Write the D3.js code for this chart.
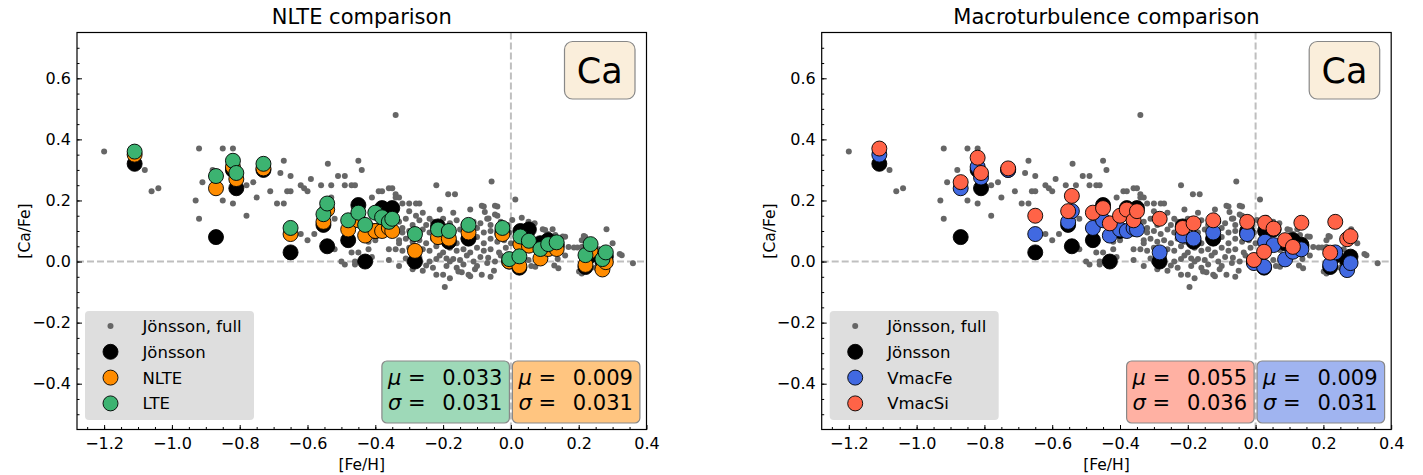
<!DOCTYPE html>
<html>
<head>
<meta charset="utf-8">
<script src="https://cdn.jsdelivr.net/npm/d3@7"></script>
<style>
  body { margin: 0; background: #fff; }
  svg { display: block; font-family: "DejaVu Sans", sans-serif; }
</style>
</head>
<body>
<svg class="chart"></svg>
<script>
// Sample stars: [Fe/H] and [Ca/Fe] for each analysis
var feh      = [-1.11, -0.87, -0.82, -0.81, -0.73, -0.65, -0.553, -0.542, -0.48, -0.45, -0.43, -0.40, -0.38, -0.36, -0.35, -0.283, -0.215, -0.183, -0.125, -0.025, -0.005, 0.025, 0.028, 0.053, 0.087, 0.11, 0.135, 0.22, 0.235, 0.27, 0.28];
var caJon    = [0.32, 0.08, 0.30, 0.24, 0.30, 0.03, 0.12, 0.05, 0.07, 0.185, 0.0, 0.10, 0.175, 0.12, 0.175, 0.0, 0.115, 0.065, 0.075, 0.10, 0.0, -0.02, 0.10, 0.105, 0.06, 0.07, 0.055, -0.018, 0.02, 0.0, 0.016];
var caNLTE   = [0.35, 0.24, 0.31, 0.27, 0.305, 0.09, 0.13, 0.17, 0.105, 0.135, 0.085, 0.10, 0.10, 0.11, 0.10, 0.035, 0.08, 0.075, 0.095, 0.09, 0.0, -0.015, 0.057, 0.052, 0.01, 0.041, 0.041, -0.011, 0.035, -0.026, -0.002];
var caLTE    = [0.36, 0.28, 0.33, 0.29, 0.32, 0.11, 0.155, 0.19, 0.135, 0.16, 0.12, 0.16, 0.145, 0.13, 0.14, 0.09, 0.105, 0.10, 0.12, 0.11, 0.008, 0.017, 0.082, 0.068, 0.041, 0.057, 0.063, 0.021, 0.057, 0.008, 0.03];
var caVmacFe = [0.35, 0.24, 0.31, 0.275, 0.30, 0.09, 0.13, 0.165, 0.11, 0.135, 0.085, 0.105, 0.10, 0.11, 0.105, 0.03, 0.085, 0.075, 0.095, 0.09, -0.005, -0.017, 0.065, 0.054, 0.007, 0.032, 0.04, -0.01, 0.03, -0.028, -0.005];
var caVmacSi = [0.37, 0.26, 0.34, 0.29, 0.305, 0.15, 0.165, 0.215, 0.16, 0.175, 0.125, 0.15, 0.17, 0.135, 0.165, 0.14, 0.11, 0.125, 0.135, 0.13, 0.005, 0.032, 0.127, 0.108, 0.07, 0.048, 0.127, 0.029, 0.13, 0.073, 0.083];

// Jönsson full sample [Fe/H, Ca/Fe]
var jonssonFull = [
  [-1.20,0.36],[-1.08,0.30],[-1.06,0.23],[-1.04,0.24],
  [-0.93,0.20],[-0.92,0.14],[-0.92,0.37],[-0.91,0.26],[-0.88,0.30],[-0.85,0.20],[-0.85,0.37],[-0.82,0.37],
  [-0.82,0.19],[-0.78,0.25],[-0.78,0.15],[-0.76,0.26],[-0.75,0.21],[-0.71,0.23],[-0.69,0.19],[-0.67,0.19],
  [-0.68,0.29],[-0.67,0.33],[-0.66,0.23],[-0.65,0.23],[-0.65,0.28],[-0.62,0.25],[-0.61,0.24],[-0.60,0.23],
  [-0.59,0.27],[-0.62,0.09],[-0.60,0.07],[-0.56,0.25],[-0.54,0.32],[-0.53,0.25],[-0.53,0.21],[-0.52,0.14],
  [-0.51,0.28],[-0.49,0.28],[-0.49,0.25],[-0.47,0.25],[-0.46,0.25],[-0.45,0.33],[-0.44,0.30],
  [-0.41,0.21],[-0.39,0.23],[-0.36,0.24],[-0.34,0.22],[-0.34,0.21],[-0.32,0.19],[-0.30,0.19],[-0.28,0.19],
  [-0.27,0.19],[-0.22,0.25],[-0.185,0.22],[-0.165,0.22],[-0.38,0.23],[-0.35,0.24],[-0.33,0.21],
  [-0.56,0.11],[-0.58,0.09],[-0.49,-0.01],[-0.46,-0.01],[-0.47,0.03],[-0.45,0.03],[-0.42,0.04],[-0.41,0.015],
  [-0.42,0.065],[-0.40,0.07],[-0.36,0.005],[-0.33,-0.015],[-0.31,0.01],[-0.52,0.04],[-0.50,0.0],[-0.46,0.0],
  [-0.36,0.04],[-0.34,0.04],[-0.33,0.07],[-0.32,0.095],[-0.36,0.09],[-0.35,0.105],[-0.30,0.00],[-0.28,0.008],
  [-0.25,-0.013],[-0.22,0.008],[-0.22,-0.043],[-0.20,-0.043],[-0.19,-0.015],[-0.195,-0.083],[-0.18,0.0],
  [-0.17,0.008],[-0.145,-0.035],[-0.125,-0.043],[-0.086,-0.043],[-0.16,-0.02],[-0.106,-0.025],[-0.047,0.0],
  [-0.067,0.012],[-0.018,0.012],[-0.18,-0.055],[-0.155,-0.033],[-0.12,-0.048],
  [-0.30,0.165],[-0.26,0.16],[-0.21,0.17],[-0.17,0.16],[-0.12,0.17],[-0.08,0.18],[-0.04,0.18],[-0.04,0.15],
  [-0.07,0.14],[-0.28,0.15],[-0.24,0.14],
  [-0.33,0.13],[-0.31,0.14],[-0.29,0.12],[-0.27,0.135],[-0.25,0.12],[-0.23,0.13],[-0.20,0.14],[-0.18,0.125],
  [-0.16,0.135],[-0.14,0.12],[-0.11,0.13],[-0.09,0.125],[-0.06,0.12],[-0.03,0.13],[-0.01,0.12],
  [-0.32,0.11],[-0.30,0.10],[-0.28,0.09],[-0.26,0.105],[-0.24,0.095],[-0.22,0.09],[-0.19,0.11],[-0.17,0.095],
  [-0.15,0.105],[-0.13,0.09],[-0.10,0.11],[-0.08,0.095],[-0.06,0.10],[-0.04,0.09],[-0.02,0.105],[-0.005,0.095],
  [-0.33,0.06],[-0.31,0.075],[-0.29,0.065],[-0.27,0.07],[-0.25,0.06],[-0.23,0.075],[-0.21,0.065],[-0.19,0.08],
  [-0.16,0.06],[-0.14,0.075],[-0.12,0.065],[-0.10,0.08],[-0.08,0.06],[-0.06,0.075],[-0.04,0.065],[-0.02,0.07],
  [0.0,0.06],
  [-0.32,0.035],[-0.30,0.045],[-0.28,0.03],[-0.26,0.04],[-0.24,0.035],[-0.22,0.05],[-0.20,0.03],[-0.18,0.045],
  [-0.16,0.035],[-0.14,0.04],[-0.12,0.03],[-0.10,0.045],[-0.08,0.035],[-0.06,0.04],[-0.035,0.03],[-0.015,0.045],
  [-0.27,0.015],[-0.24,0.0],[-0.21,0.02],[-0.19,0.01],[-0.15,0.005],[-0.13,0.02],[-0.11,0.0],[-0.09,0.015],
  [-0.07,-0.005],[-0.03,0.02],
  [-0.26,-0.03],[-0.23,-0.02],[-0.14,-0.01],[-0.10,-0.015],[-0.05,-0.03],[-0.06,-0.05],[-0.29,-0.025],
  [-0.34,0.48],[-0.057,0.262],[-0.086,0.183],[-0.047,0.183],[-0.077,0.162],[-0.047,0.154],[-0.066,0.141],
  [0.013,0.203],[0.004,0.136],[0.032,0.143],[0.07,0.125],[0.094,0.106],[0.123,0.106],[0.153,0.082],[0.186,0.046],
  [0.196,0.046],[0.215,0.084],[0.282,0.106],[0.321,0.025],[0.36,-0.006],[0.128,-0.013],[0.138,0.008],[0.201,-0.033],
  [0.06,-0.015],[0.052,0.13],[0.062,0.114],[0.101,0.103],[0.131,0.087],[0.16,0.081],[0.17,0.048],[0.131,0.038],
  [0.14,-0.022],[0.072,-0.017],[0.209,0.07],[0.219,0.081],[0.209,0.048],[0.239,0.021],[0.209,-0.039],[0.327,0.021],
  [0.072,0.038],[0.052,0.005],[0.022,0.043],[0.018,0.10],[0.04,0.09],[0.09,0.06],[0.11,0.09],[0.15,0.05],
  [0.03,0.06],[0.08,0.02],[0.16,0.02],[0.26,0.04],[0.30,0.06],[0.25,-0.02]
];

// Axis ticks
var xTicks = [-1.2, -1.0, -0.8, -0.6, -0.4, -0.2, 0.0, 0.2, 0.4];
var yTicks = [-0.4, -0.2, 0.0, 0.2, 0.4, 0.6];
var xMinor = d3.range(-1.25, 0.4, 0.05);
var yMinor = d3.range(-0.5, 0.75, 0.05);

// Panel setup: titles, series and statistics
var panelTitles = ["NLTE comparison", "Macroturbulence comparison"];
var seriesLeft  = [{ name: "Jönsson", values: caJon, color: "#000000" },
                   { name: "NLTE", values: caNLTE, color: "#ff8c00" },
                   { name: "LTE", values: caLTE, color: "#3cb371" }];
var seriesRight = [{ name: "Jönsson", values: caJon, color: "#000000" },
                   { name: "VmacFe", values: caVmacFe, color: "#4169e1" },
                   { name: "VmacSi", values: caVmacSi, color: "#ff6347" }];
var statsLeft   = [{ mu: "0.033", sigma: "0.031", color: "#9ed9b8", side: "left" },
                   { mu: "0.009", sigma: "0.031", color: "#ffc580", side: "right" }];
var statsRight  = [{ mu: "0.055", sigma: "0.036", color: "#ffb1a3", side: "left" },
                   { mu: "0.009", sigma: "0.031", color: "#a0b4f0", side: "right" }];

var w = 1423, h = 475;
var svg = d3.select(".chart").attr("width", w).attr("height", h);

var yTop = 32.5, yBot = 429.5;

function styleAxis(a) {
    a.select(".domain").remove();
    a.attr("font-family", "DejaVu Sans, sans-serif").attr("font-size", 16);
    a.selectAll("line").attr("stroke", "#000");
    a.selectAll("text").attr("fill", "#000");
}

function drawPanel(x0, x1, title, series, stats) {
    var g = svg.append("g");

    var xScale = d3.scaleLinear().domain([-1.28, 0.4]).range([x0, x1]);
    var yScale = d3.scaleLinear().domain([-0.55, 0.75]).range([yBot, yTop]);

    // reference lines
    g.append("line")
        .attr("x1", x0).attr("x2", x1)
        .attr("y1", yScale(0)).attr("y2", yScale(0))
        .attr("stroke", "#bfbfbf").attr("stroke-width", 2).attr("stroke-dasharray", "7,3");
    g.append("line")
        .attr("x1", xScale(0)).attr("x2", xScale(0))
        .attr("y1", yTop).attr("y2", yBot)
        .attr("stroke", "#bfbfbf").attr("stroke-width", 2).attr("stroke-dasharray", "7,3");

    // full sample
    g.append("g").selectAll("circle")
        .data(jonssonFull)
        .enter().append("circle")
        .attr("cx", function(d) { return xScale(d[0]); })
        .attr("cy", function(d) { return yScale(d[1]); })
        .attr("r", 3)
        .attr("fill", "#666666");

    // comparison stars
    series.forEach(function(s) {
        g.append("g").selectAll("circle")
            .data(feh)
            .enter().append("circle")
            .attr("cx", function(d) { return xScale(d); })
            .attr("cy", function(d, i) { return yScale(s.values[i]); })
            .attr("r", 7.5)
            .attr("fill", s.color)
            .attr("stroke", "#000")
            .attr("stroke-width", 0.9);
    });

    // axes (ticks pointing in)
    g.append("g")
        .attr("transform", "translate(0," + yBot + ")")
        .call(d3.axisBottom(xScale).tickValues(xTicks).tickSize(-4.5).tickPadding(8)
              .tickFormat(d3.format(".1f")))
        .call(styleAxis);
    g.append("g")
        .attr("transform", "translate(0," + yBot + ")")
        .call(d3.axisBottom(xScale).tickValues(xMinor).tickSize(-2.5).tickFormat(""))
        .call(styleAxis);
    g.append("g")
        .attr("transform", "translate(" + x0 + ",0)")
        .call(d3.axisLeft(yScale).tickValues(yTicks).tickSize(-5).tickPadding(6)
              .tickFormat(d3.format(".1f")))
        .call(styleAxis);
    g.append("g")
        .attr("transform", "translate(" + x0 + ",0)")
        .call(d3.axisLeft(yScale).tickValues(yMinor).tickSize(-2.5).tickFormat(""))
        .call(styleAxis);

    // frame
    g.append("rect")
        .attr("x", x0).attr("y", yTop)
        .attr("width", x1 - x0).attr("height", yBot - yTop)
        .attr("fill", "none").attr("stroke", "#000").attr("stroke-width", 1.2);

    // title and labels
    g.append("text")
        .attr("x", (x0 + x1) / 2).attr("y", 24)
        .attr("text-anchor", "middle")
        .attr("font-size", "21px")
        .text(title);
    g.append("text")
        .attr("x", (x0 + x1) / 2).attr("y", 470)
        .attr("text-anchor", "middle")
        .attr("font-size", "15.5px")
        .text("[Fe/H]");
    g.append("text")
        .attr("transform", "translate(" + (x0 - 47) + "," + ((yTop + yBot) / 2) + ") rotate(-90)")
        .attr("text-anchor", "middle")
        .attr("font-size", "15.5px")
        .text("[Ca/Fe]");

    // element box
    g.append("rect")
        .attr("x", x1 - 82).attr("y", yTop + 9)
        .attr("width", 70.5).attr("height", 57.5)
        .attr("rx", 8)
        .attr("fill", "#faeedb").attr("stroke", "#888").attr("stroke-width", 1.2);
    g.append("text")
        .attr("x", x1 - 46.8).attr("y", yTop + 50.5)
        .attr("text-anchor", "middle")
        .attr("font-size", "35px")
        .text("Ca");

    // statistics boxes
    var bw = 127.5, bh = 62;
    stats.forEach(function(s) {
        var bx = s.side === "left" ? xScale(0) - 1.5 - bw : xScale(0) + 1.5;
        var by = yBot - 6.5 - bh;
        g.append("rect")
            .attr("x", bx).attr("y", by)
            .attr("width", bw).attr("height", bh)
            .attr("rx", 5)
            .attr("fill", s.color).attr("stroke", "#888").attr("stroke-width", 1.2);
        [["μ", s.mu], ["σ", s.sigma]].forEach(function(row, k) {
            var t = g.append("text")
                .attr("x", bx + 6).attr("y", by + 24 + k * 25)
                .attr("font-size", "21px");
            t.append("tspan").attr("font-style", "italic").text(row[0]);
            t.append("tspan").text(" =");
            g.append("text")
                .attr("x", bx + bw - 7).attr("y", by + 24 + k * 25)
                .attr("text-anchor", "end")
                .attr("font-size", "21px")
                .text(row[1]);
        });
    });

    // legend
    var lg = g.append("g").attr("transform", "translate(" + (x0 + 8) + "," + (yBot - 118.5) + ")");
    lg.append("rect")
        .attr("width", 169).attr("height", 109)
        .attr("rx", 4)
        .attr("fill", "#dedede");
    var entries = [{ name: "Jönsson, full", color: "#666666", r: 3, stroke: "none" }]
        .concat(series.map(function(s) { return { name: s.name, color: s.color, r: 7.5, stroke: "#000" }; }));
    entries.forEach(function(e, i) {
        var yy = 15 + i * 25.8;
        lg.append("circle")
            .attr("cx", 25.5).attr("cy", yy)
            .attr("r", e.r)
            .attr("fill", e.color)
            .attr("stroke", e.stroke).attr("stroke-width", 0.9);
        lg.append("text")
            .attr("x", 57.5).attr("y", yy + 6)
            .attr("font-size", "16.5px")
            .text(e.name);
    });
}

drawPanel(77, 646.5, panelTitles[0], seriesLeft, statsLeft);
drawPanel(821.7, 1391.2, panelTitles[1], seriesRight, statsRight);
</script>
</body>
</html>
